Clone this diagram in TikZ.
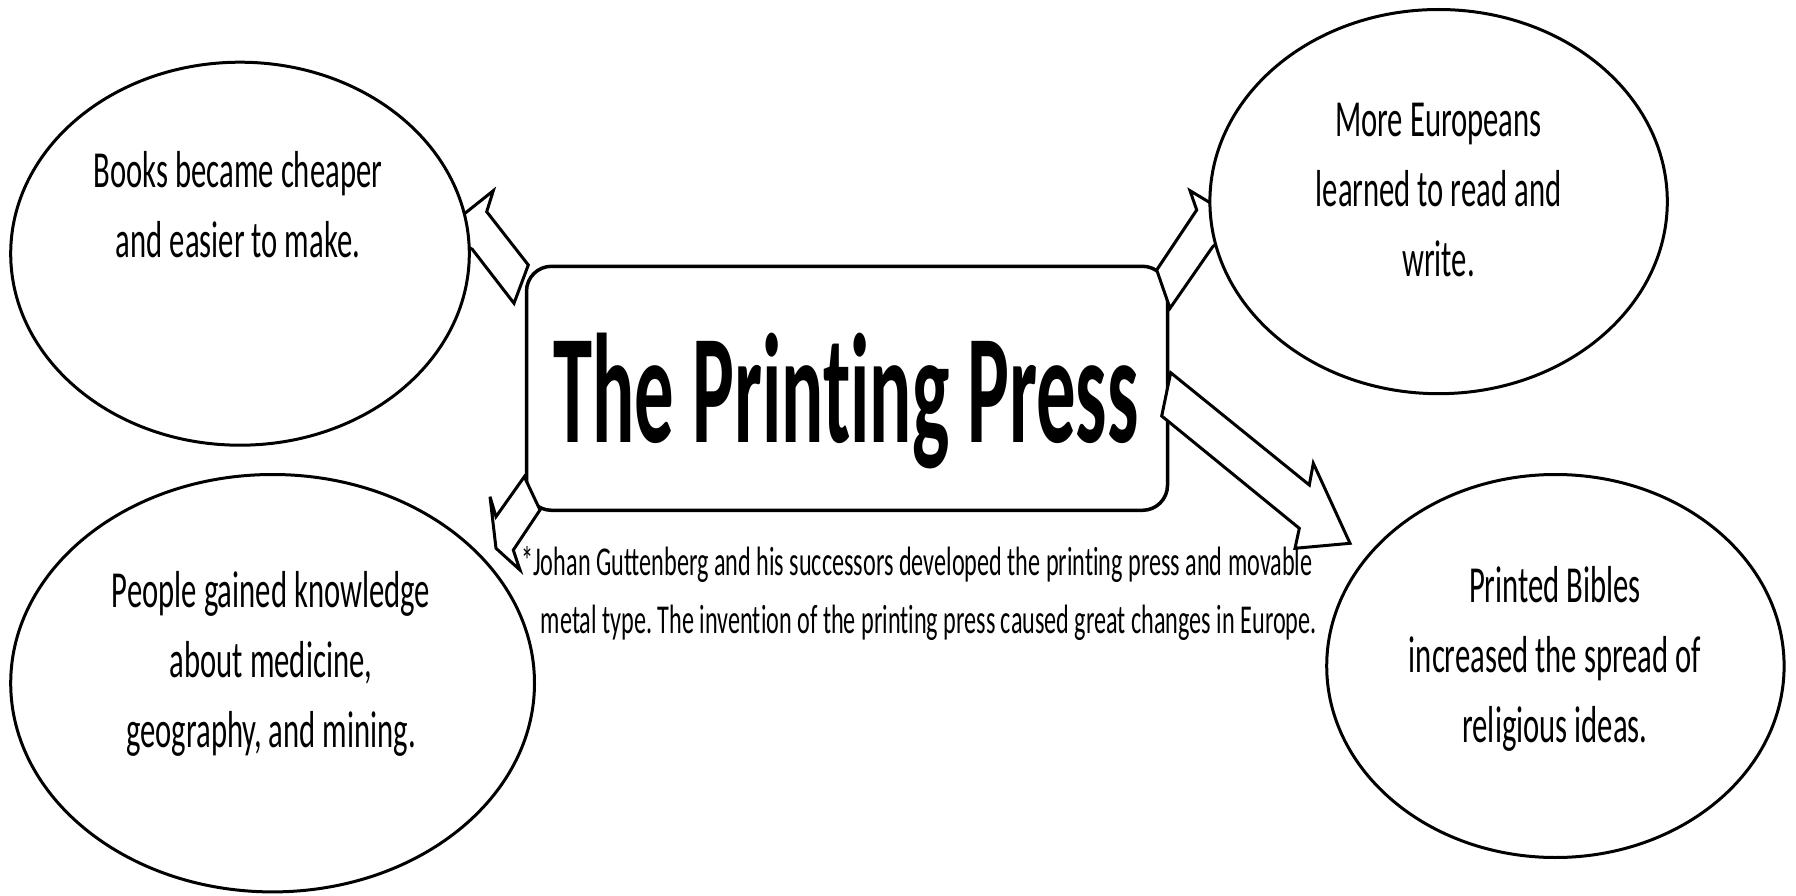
\documentclass[tikz,border=0pt]{standalone}
\usepackage{fontspec}
\setmainfont{Carlito}[FakeStretch=0.59,Ligatures=NoCommon]
\newfontfamily\titlefont{Carlito}[FakeStretch=0.505,Ligatures=NoCommon]
\usetikzlibrary{shapes.geometric}
\frenchspacing
\begin{document}
\begin{tikzpicture}[x=1pt,y=-1pt,
  bubble/.style={ellipse,draw=black,line width=3pt,fill=white,inner sep=0pt},
  mainbox/.style={draw=black,line width=3.5pt,fill=white,rounded corners=25pt,
    minimum width=641pt,minimum height=244pt,inner sep=0pt},
  blockarrow/.style={draw=black,line width=3pt,fill=white,line join=miter},
  bubbletext/.style={anchor=base,inner sep=0pt,font=\fontsize{52}{70}\selectfont},
  ]
\fill[white] (0,0) rectangle (1796,896);
\useasboundingbox (0,0) rectangle (1796,896);

% central box
\node[mainbox] (press) at (847,388.3) {};

% block arrows
\draw[blockarrow] (493.3,190.7) -- (486.7,211.7) -- (528.3,265) -- (514,303.3)
  -- (472.3,249.3) -- (452,238) -- (455,221.3) -- cycle;
\draw[blockarrow] (1190,190.7) -- (1225,211.7) -- (1232,232) -- (1212.7,246.7)
  -- (1170,308.3) -- (1156.7,270) -- (1196.7,210) -- cycle;
\draw[blockarrow] (1170.7,372.7) -- (1309.3,485) -- (1313.3,463.3) -- (1350,543.3)
  -- (1295,548.3) -- (1299.3,528.3) -- (1161.7,416) -- cycle;
\draw[blockarrow] (524.3,476.7) -- (496,516.7) -- (490,496.7) -- (496,548.3)
  -- (520,570) -- (513.3,550) -- (540,510) -- cycle;

% ellipses
\node[bubble,minimum width=458.6pt,minimum height=383pt] (books) at (240,253.7) {};
\node[bubble,minimum width=523.8pt,minimum height=417.4pt] (people) at (272.6,683.2) {};
\node[bubble,minimum width=457.4pt,minimum height=384.2pt] (europeans) at (1438.6,201.6) {};
\node[bubble,minimum width=457.4pt,minimum height=383pt] (bibles) at (1555.4,666) {};

% texts
\node[anchor=base,inner sep=0pt,font=\titlefont\bfseries\fontsize{156}{160}\selectfont]
  (title) at (846.2,442) {The Printing Press};

\node[bubbletext] (booksT) at (238,188)
  {\begin{tabular}[t]{@{}c@{}}Books became cheaper\\and easier to make.\end{tabular}};
\node[bubbletext] (europeansT) at (1438.5,137)
  {\begin{tabular}[t]{@{}c@{}}More Europeans\\learned to read and\\write.\end{tabular}};
\node[bubbletext] (peopleT) at (271,607)
  {\begin{tabular}[t]{@{}c@{}}People gained knowledge\\about medicine,\\geography, and mining.\end{tabular}};
\node[bubbletext] (biblesT) at (1555,602)
  {\begin{tabular}[t]{@{}c@{}}Printed Bibles\\increased the spread of\\religious ideas.\end{tabular}};

\node[anchor=base west,inner sep=0pt,font=\fontsize{41}{58}\selectfont] (caption) at (521,575)
  {\begin{tabular}[t]{@{}l@{}}*Johan Guttenberg and his successors developed the printing press and movable\\
   \hspace*{19.6pt}metal type. The invention of the printing press caused great changes in Europe.\end{tabular}};
\end{tikzpicture}
\end{document}
